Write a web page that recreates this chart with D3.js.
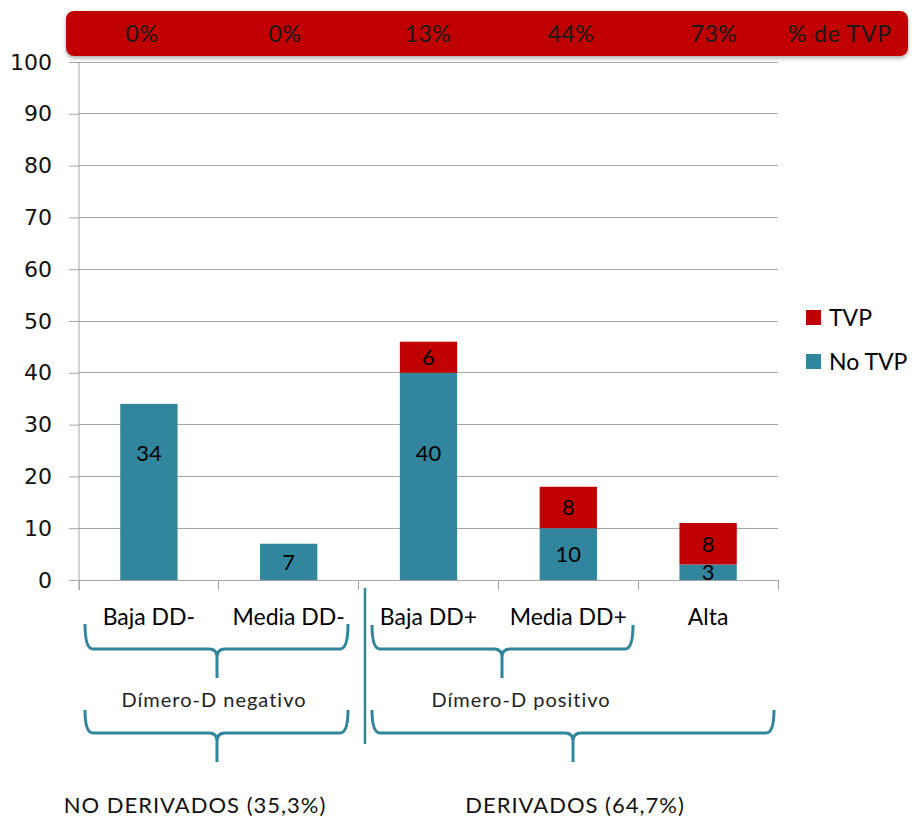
<!DOCTYPE html>
<html>
<head>
<meta charset="utf-8">
<script src="https://cdn.jsdelivr.net/npm/d3@7"></script>
<style>
  html, body { margin: 0; padding: 0; background: #fff; }
  svg { display: block; }
</style>
</head>
<body>
<svg id="chart" width="914" height="819"></svg>
<script>
// Categories and stacked counts
const categories = ["Baja DD-", "Media DD-", "Baja DD+", "Media DD+", "Alta"];
const noTVP = [34, 7, 40, 10, 3];
const tvp = [0, 0, 6, 8, 8];
const pctTVP = ["0%", "0%", "13%", "44%", "73%"];
const pctTitle = "% de TVP";
const yTicks = [0, 10, 20, 30, 40, 50, 60, 70, 80, 90, 100];
const seriesNames = ["No TVP", "TVP"];
const groupLabels = ["Dímero-D negativo", "Dímero-D positivo"];
const derivLabels = ["NO DERIVADOS (35,3%)", "DERIVADOS (64,7%)"];

const RED = "#C00000", TEAL = "#31859C";
const svg = d3.select("#chart");

const plot = { left: 79, right: 778, top: 62, bottom: 580 };

const x = d3.scaleBand().domain(categories)
  .range([plot.left, plot.right]).paddingInner(0.59).paddingOuter(0.295);
const y = d3.scaleLinear().domain([0, 100]).range([plot.bottom, plot.top]);

const rows = categories.map((c, i) => ({ cat: c, "No TVP": noTVP[i], "TVP": tvp[i] }));
const stacked = d3.stack().keys(seriesNames)(rows);
const color = d3.scaleOrdinal().domain(seriesNames).range([TEAL, RED]);

// Gridlines
svg.append("g")
  .selectAll("line").data(yTicks.filter(t => t > 0)).join("line")
  .attr("x1", plot.left).attr("x2", plot.right)
  .attr("y1", d => y(d)).attr("y2", d => y(d))
  .attr("stroke", "#A6A6A6").attr("stroke-width", 1).attr("shape-rendering", "crispEdges");

// Y axis
const yAxis = svg.append("g").attr("transform", `translate(${plot.left},0)`)
  .call(d3.axisLeft(y).tickValues(yTicks).tickSize(10).tickPadding(17));
yAxis.select(".domain").attr("stroke", "#A6A6A6").attr("d", `M0,${plot.top}V${plot.bottom + 10}`);
yAxis.selectAll(".tick line").attr("stroke", "#A6A6A6");
yAxis.selectAll(".tick text").attr("font-family", "DejaVu Sans").attr("font-size", 22).attr("fill", "#111");

// X axis with ticks on category boundaries
const xg = svg.append("g").attr("transform", `translate(0,${plot.bottom})`);
xg.append("line").attr("x1", plot.left).attr("x2", plot.right)
  .attr("stroke", "#A6A6A6").attr("shape-rendering", "crispEdges");
const step = x.step();
const bounds = d3.range(categories.length + 1).map(i => plot.left + i * step);
xg.selectAll("line.tk").data(bounds).join("line").attr("class", "tk")
  .attr("x1", d => d).attr("x2", d => d).attr("y1", 0).attr("y2", 10)
  .attr("stroke", "#A6A6A6").attr("shape-rendering", "crispEdges");
xg.selectAll("text").data(categories).join("text")
  .attr("x", d => x(d) + x.bandwidth() / 2).attr("y", 45)
  .attr("text-anchor", "middle").attr("font-family", "Lato").attr("font-size", 23)
  .attr("fill", "#000").text(d => d);

// Stacked bars
const bw = x.bandwidth();
svg.append("g").selectAll("g").data(stacked).join("g")
  .attr("fill", d => color(d.key))
  .selectAll("rect").data(d => d.filter(s => s[1] > s[0])).join("rect")
  .attr("x", d => x(d.data.cat)).attr("width", bw)
  .attr("y", d => y(d[1])).attr("height", d => y(d[0]) - y(d[1]));

// Segment labels: tall base segments carry their label at level 24.5
const labelLevel = (lo, hi) => (hi - lo > 20 ? 24.5 : (lo + hi) / 2);
svg.append("g").selectAll("g").data(stacked).join("g")
  .selectAll("text").data(d => d.filter(s => s[1] > s[0])).join("text")
  .attr("x", d => x(d.data.cat) + bw / 2)
  .attr("y", d => y(labelLevel(d[0], d[1])))
  .attr("dy", "0.36em").attr("text-anchor", "middle")
  .attr("font-family", "Lato").attr("font-size", 22).attr("fill", "#000")
  .text(d => d[1] - d[0]);

// Percentage banner
const defs = svg.append("defs");
const f = defs.append("filter").attr("id", "shadow").attr("x", "-5%").attr("y", "-30%").attr("width", "110%").attr("height", "170%");
f.append("feDropShadow").attr("dx", 0).attr("dy", 2).attr("stdDeviation", 2).attr("flood-color", "#000").attr("flood-opacity", 0.35);
svg.append("rect").attr("x", 66).attr("y", 11).attr("width", 842).attr("height", 45)
  .attr("rx", 8).attr("fill", RED).attr("filter", "url(#shadow)");
const px = d3.scalePoint().domain(d3.range(pctTVP.length)).range([142, 714]);
svg.append("g").selectAll("text").data(pctTVP).join("text")
  .attr("x", (d, i) => px(i)).attr("y", 34).attr("dy", "0.36em")
  .attr("text-anchor", "middle").attr("font-family", "Lato").attr("font-size", 23)
  .attr("letter-spacing", 0.5).attr("fill", "#1a1a1a").text(d => d);
svg.append("text").attr("x", 840).attr("y", 34).attr("dy", "0.36em")
  .attr("text-anchor", "middle").attr("font-family", "Lato").attr("font-size", 23)
  .attr("letter-spacing", 0.8).attr("fill", "#1a1a1a").text(pctTitle);

// Legend
const legend = svg.append("g");
["TVP", "No TVP"].forEach((k, i) => {
  const ly = 318 + i * 44;
  legend.append("rect").attr("x", 806).attr("y", ly - 8).attr("width", 15).attr("height", 15).attr("fill", color(k));
  legend.append("text").attr("x", 829).attr("y", ly).attr("dy", "0.36em")
    .attr("font-family", "Lato").attr("font-size", 23).attr("fill", "#000").text(k);
});

// Braces grouping the categories
function brace(x0, x1, xt, top, mid, bot) {
  const r = 8;
  return `M${x0},${top} Q${x0},${mid} ${x0 + r},${mid} L${xt - r},${mid} Q${xt},${mid} ${xt},${mid + r} L${xt},${bot}` +
         ` M${xt},${mid + r} Q${xt},${mid} ${xt + r},${mid} L${x1 - r},${mid} Q${x1},${mid} ${x1},${top}`;
}
const braceG = svg.append("g").attr("fill", "none").attr("stroke", TEAL).attr("stroke-width", 3);
braceG.append("path").attr("d", brace(85, 348, 217, 624, 649, 678));
braceG.append("path").attr("d", brace(85, 348, 217, 710, 733, 762));
braceG.append("path").attr("d", brace(372, 633, 502, 625, 649, 678));
braceG.append("path").attr("d", brace(372, 774, 573, 710, 733, 762));
svg.append("line").attr("x1", 365).attr("x2", 365).attr("y1", 588).attr("y2", 744)
  .attr("stroke", TEAL).attr("stroke-width", 2.5);

svg.append("g").selectAll("text").data(groupLabels).join("text")
  .attr("x", (d, i) => [214, 521][i]).attr("y", 700).attr("dy", "0.36em")
  .attr("text-anchor", "middle").attr("font-family", "Lato").attr("font-size", 20)
  .attr("letter-spacing", 1).attr("fill", "#222").text(d => d);

svg.append("g").selectAll("text").data(derivLabels).join("text")
  .attr("x", (d, i) => [195, 575][i]).attr("y", 805).attr("dy", "0.36em")
  .attr("text-anchor", "middle").attr("font-family", "Lato").attr("font-size", 22)
  .attr("letter-spacing", 1).attr("fill", "#111").text(d => d);
</script>
</body>
</html>
